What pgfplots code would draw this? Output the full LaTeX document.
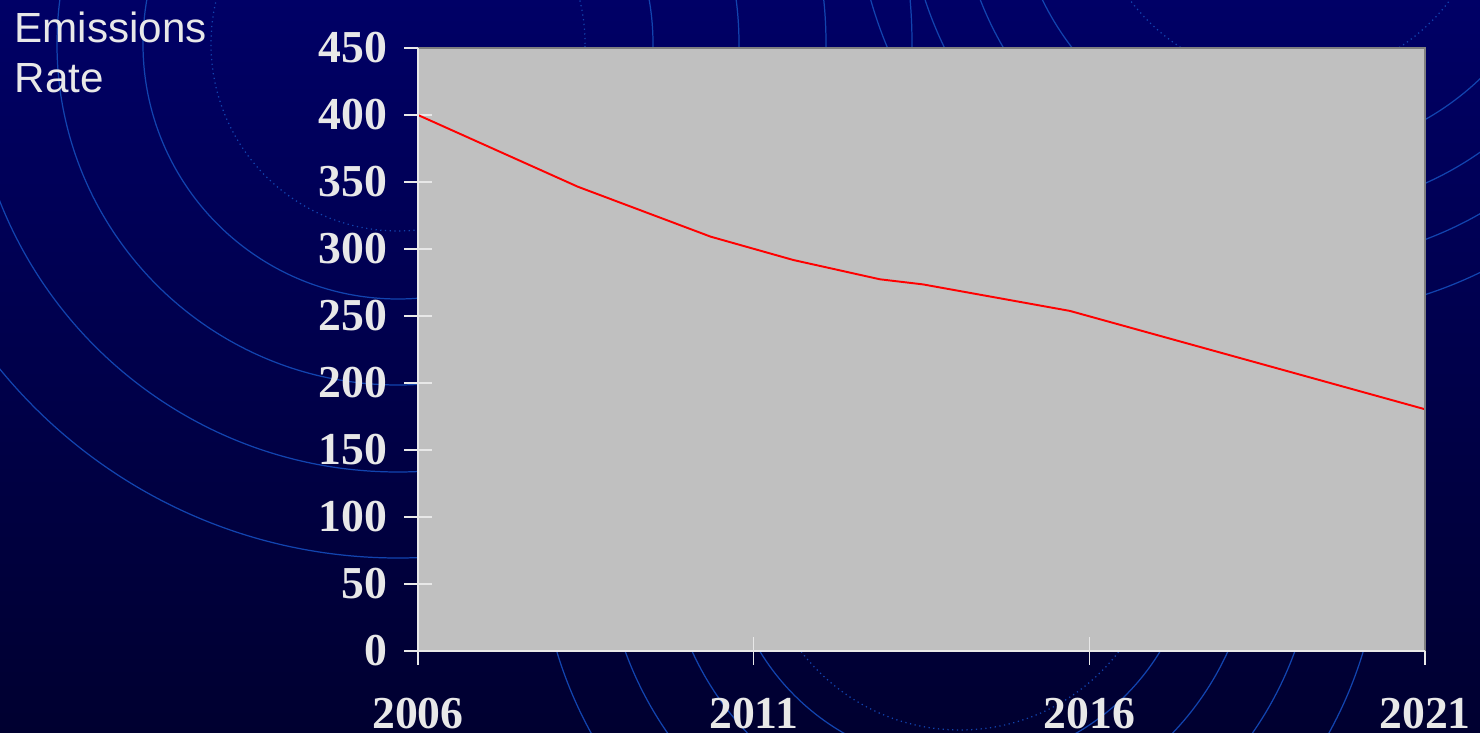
\documentclass[border=0pt]{standalone}
\usepackage{pgfplots}
\pgfplotsset{compat=1.18}
\usepackage{fontspec}
\setmainfont{Liberation Serif}
\newfontfamily\labfont{Liberation Sans}
\definecolor{bgtop}{RGB}{0,0,102}
\definecolor{bgbot}{RGB}{0,0,48}
\definecolor{arccol}{RGB}{18,68,175}
\definecolor{txt}{RGB}{232,232,232}
\definecolor{plotbg}{RGB}{192,192,192}
\definecolor{framecol}{RGB}{128,128,128}
\begin{document}
\begin{tikzpicture}
\begin{scope}[x=0.1mm,y=0.1mm]
\shade[top color=bgtop, bottom color=bgbot] (0,0) rectangle (1480,733);
\path[use as bounding box] (0,0) rectangle (1480,733);
\begin{scope}
\clip (0,0) rectangle (1480,733);
\foreach \r in {255,341,428,514} \draw[arccol, line width=0.35pt] (398,689) circle[radius=\r];
\draw[arccol, line width=0.35pt, densely dotted] (398,689) circle[radius=187];
\foreach \r in {234,294,356,421} \draw[arccol, line width=0.35pt] (960,203) circle[radius=\r];
\draw[arccol, line width=0.35pt, densely dotted] (960,203) circle[radius=200];
\foreach \r in {275,332,384,436} \draw[arccol, line width=0.35pt] (1290,853) circle[radius=\r];
\draw[arccol, line width=0.35pt, densely dotted] (1290,853) circle[radius=200];
\end{scope}
\node[anchor=north west, inner sep=0pt, align=left, text=txt,
      font=\labfont\fontsize{12}{14.2}\selectfont] at (14,722) {Emissions\\Rate};
\end{scope}
\begin{axis}[at={(41.8mm,8.2mm)}, anchor=south west,
  width=100.7mm, height=60.3mm, scale only axis,
  xmin=2006, xmax=2021, ymin=0, ymax=450,
  axis background/.style={fill=plotbg},
  axis line style={draw=none},
  xtick={2006,2011,2016,2021}, xticklabels={2006,2011,2016,2021},
  ytick={0,50,100,150,200,250,300,350,400,450},
  yticklabels={0,50,100,150,200,250,300,350,400,450},
  tick align=center, major tick length=2.8mm,
  tick style={txt, line width=0.45pt},
  tick pos=left,
  ticklabel style={font=\fontsize{13}{13}\selectfont\bfseries, text=txt, inner sep=0pt},
  yticklabel style={anchor=east, xshift=-1.6mm},
  xticklabel style={anchor=north, yshift=-3.2mm},
  clip=false,
]
\addplot[red, line width=0.55pt, no marks] coordinates {
  (2006,400) (2008.38,346.5) (2010.36,309.2) (2011.59,291.8)
  (2012.88,277.4) (2013.52,273.6) (2015.71,253.8) (2021,180.4)
};
\draw[framecol, line width=0.6pt] (rel axis cs:0,1) -- (rel axis cs:1,1) -- (rel axis cs:1,0);
\draw[txt, line width=0.6pt] (rel axis cs:0,1) -- (rel axis cs:0,0) -- (rel axis cs:1,0);
\end{axis}
\end{tikzpicture}
\end{document}
